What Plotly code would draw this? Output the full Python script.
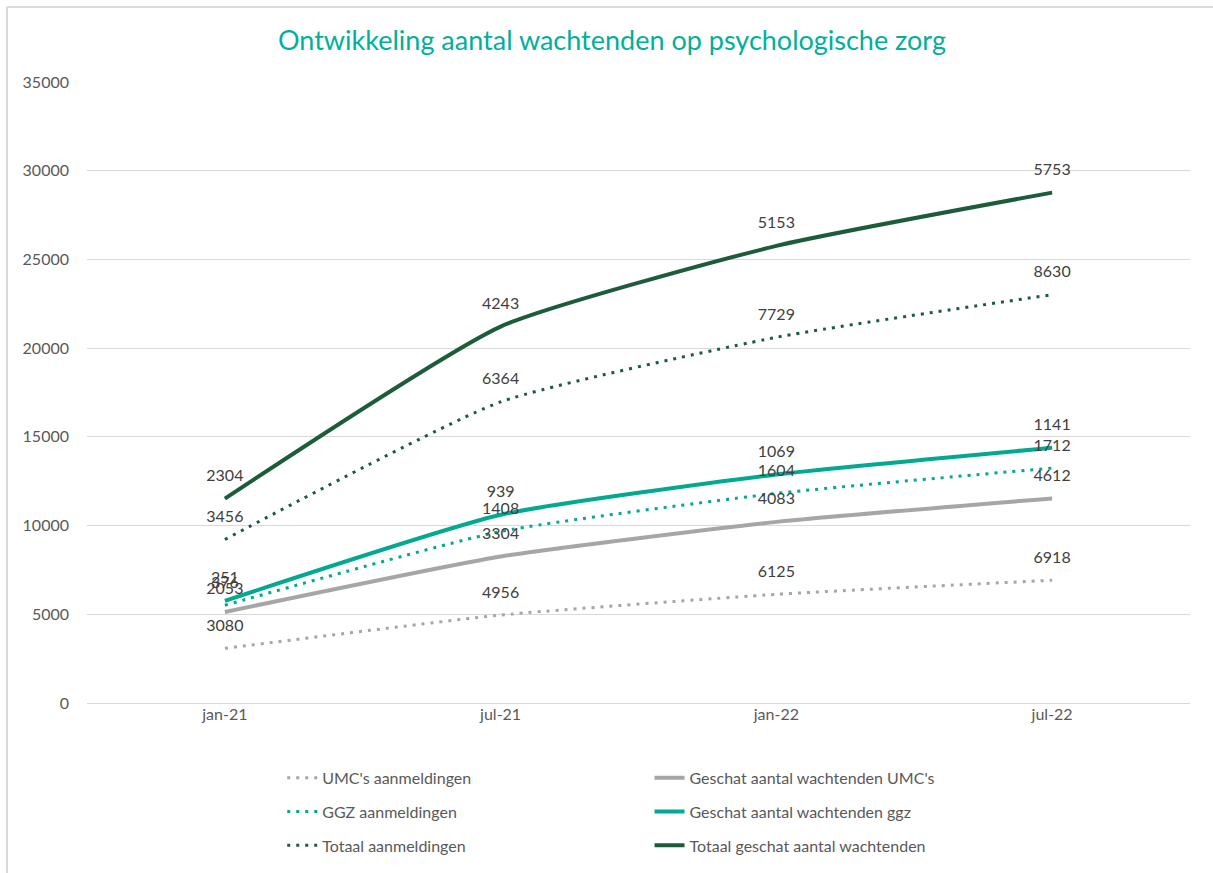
import numpy as np
import plotly.graph_objects as go

categories = ["jan-21", "jul-21", "jan-22", "jul-22"]

umc_aanmeldingen = [3080, 4956, 6125, 6918]
umc_wachtenden = [2053, 3304, 4083, 4612]
ggz_aanmeldingen = [376, 1408, 1604, 1712]
ggz_wachtenden = [251, 939, 1069, 1141]
totaal_aanmeldingen = [3456, 6364, 7729, 8630]
totaal_wachtenden = [2304, 4243, 5153, 5753]

series_names = [
    "UMC's aanmeldingen",
    "Geschat aantal wachtenden UMC's",
    "GGZ aanmeldingen",
    "Geschat aantal wachtenden ggz",
    "Totaal aanmeldingen",
    "Totaal geschat aantal wachtenden",
]
series_values = [umc_aanmeldingen, umc_wachtenden, ggz_aanmeldingen,
                 ggz_wachtenden, totaal_aanmeldingen, totaal_wachtenden]

GRAY = "#A6A6A6"
TEAL = "#00A98F"
DARK = "#1D5C3B"
colors = [GRAY, GRAY, TEAL, TEAL, DARK, DARK]
dotted = [True, False, True, False, True, False]
legend_ids = ["legend", "legend2", "legend", "legend2", "legend", "legend2"]

FONT = "Lato"
fig = go.Figure()

# stacked line chart: cumulative positions, labels show each series' own value
cum = np.cumsum(np.array(series_values, dtype=float), axis=0)
for i, name in enumerate(series_names):
    fig.add_trace(go.Scatter(
        x=categories, y=cum[i], name=name,
        mode="lines",
        line=dict(color=colors[i], width=3 if dotted[i] else 4,
                  dash="3px,6px" if dotted[i] else "solid",
                  shape="spline", smoothing=0.5),
        legend=legend_ids[i], legendgroup=name,
    ))
for i, name in enumerate(series_names):
    fig.add_trace(go.Scatter(
        x=categories, y=cum[i], name=name + " labels",
        mode="markers+text",
        text=[str(v) for v in series_values[i]],
        textposition="top center",
        textfont=dict(family=FONT, size=16, color="#404040"),
        marker=dict(size=20, opacity=0, color=colors[i]),
        showlegend=False, hoverinfo="skip", cliponaxis=False,
    ))

fig.update_layout(
    width=1213, height=873,
    margin=dict(l=87, r=23, t=82, b=170, autoexpand=False),
    paper_bgcolor="white", plot_bgcolor="white",
    title=dict(text="Ontwikkeling aantal wachtenden op psychologische zorg",
               x=0.5045, xanchor="center", y=0.954, yanchor="middle",
               font=dict(family=FONT, size=27, color="#00B09B")),
    xaxis=dict(type="category", range=[-0.5, 3.5], showgrid=False,
               showline=False, ticks="",
               tickfont=dict(family=FONT, size=16, color="#595959")),
    yaxis=dict(range=[0, 35000], dtick=5000, tickformat="d", showgrid=True,
               gridcolor="#D9D9D9", gridwidth=1, zeroline=True,
               zerolinecolor="#D9D9D9", zerolinewidth=1, showline=False,
               ticks="", ticklabelstandoff=17,
               tickfont=dict(family=FONT, size=16, color="#595959")),
    legend=dict(x=0.177, y=-0.093, xanchor="left", yanchor="top",
                orientation="v", tracegroupgap=10, traceorder="grouped",
                font=dict(family=FONT, size=16, color="#595959"),
                bgcolor="rgba(0,0,0,0)"),
    legend2=dict(x=0.51, y=-0.093, xanchor="left", yanchor="top",
                 orientation="v", tracegroupgap=10, traceorder="grouped",
                 font=dict(family=FONT, size=16, color="#595959"),
                 bgcolor="rgba(0,0,0,0)"),
    shapes=[
        dict(type="line", xref="paper", yref="paper",
             x0=-0.0725, x1=1.03, y0=1.1208, y1=1.1208,
             line=dict(color="#D9D9D9", width=2)),
        dict(type="line", xref="paper", yref="paper",
             x0=-0.0725, x1=-0.0725, y0=1.1208, y1=-0.29,
             line=dict(color="#D9D9D9", width=2)),
    ],
)

fig.write_html("out.html",
               config={"displayModeBar": False},
               post_script="document.body.style.margin='0px';"
                           "document.body.style.padding='0px';")
